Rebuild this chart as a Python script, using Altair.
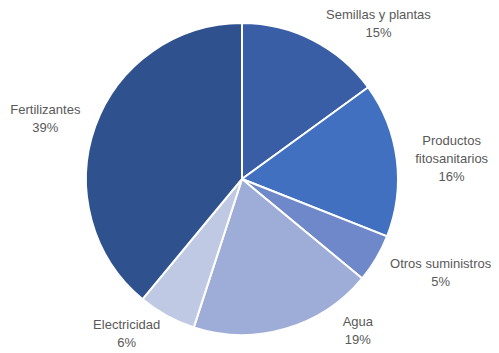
import altair as alt
import pandas as pd

categories = ["Semillas y plantas", "Productos fitosanitarios", "Otros suministros",
              "Agua", "Electricidad", "Fertilizantes"]
values = [15, 16, 5, 19, 6, 39]
label_names = ["Semillas y plantas", "Productos\nfitosanitarios", "Otros suministros",
               "Agua", "Electricidad", "Fertilizantes"]
colors = ["#3A5EA6", "#4270C0", "#6E88CA", "#9DADD7", "#C0C9E4", "#2F528F"]

# label layout adjustments (pixels), relative to the slice mid-angle anchor
label_dx = [57, 36, 48, 67, -31, -32]
label_dy = [-8, -16, -4, -25, -7, -10]

CX, CY, R, R_LAB = 234, 171, 156, 175

df = pd.DataFrame({"cat": categories, "value": values, "name": label_names,
                   "order": list(range(len(categories)))})

base = alt.Chart(df)

pie = base.mark_arc(outerRadius=R, stroke="white", strokeWidth=2).encode(
    theta=alt.Theta("value:Q", stack=True),
    color=alt.Color("cat:N", scale=alt.Scale(domain=categories, range=colors), legend=None),
    order=alt.Order("order:Q"),
    x=alt.value(CX),
    y=alt.value(CY),
)

lab_base = base.transform_window(
    cum="sum(value)", sort=[alt.SortField("order")], frame=[None, 0]
).transform_joinaggregate(total="sum(value)").transform_calculate(
    mid="2*PI*(datum.cum - datum.value/2)/datum.total",
    label="datum.name + '\\n' + datum.value + '%'",
)

layers = [pie]
for i in range(len(categories)):
    layers.append(
        lab_base.transform_filter(alt.datum.order == i).mark_text(
            dx=label_dx[i], dy=label_dy[i], lineBreak="\n", fontSize=13,
            lineHeight=18, font="Liberation Sans", color="#595959",
            align="center", baseline="middle",
        ).encode(
            theta=alt.Theta("mid:Q", scale=None, stack=None),
            radius=alt.value(R_LAB),
            text="label:N",
            x=alt.value(CX),
            y=alt.value(CY),
        )
    )

chart = alt.layer(*layers).properties(
    width=483, height=345, autosize="none", padding=0
).configure_view(stroke=None)

chart.save("out.html", embed_options={"renderer": "svg", "actions": False})
